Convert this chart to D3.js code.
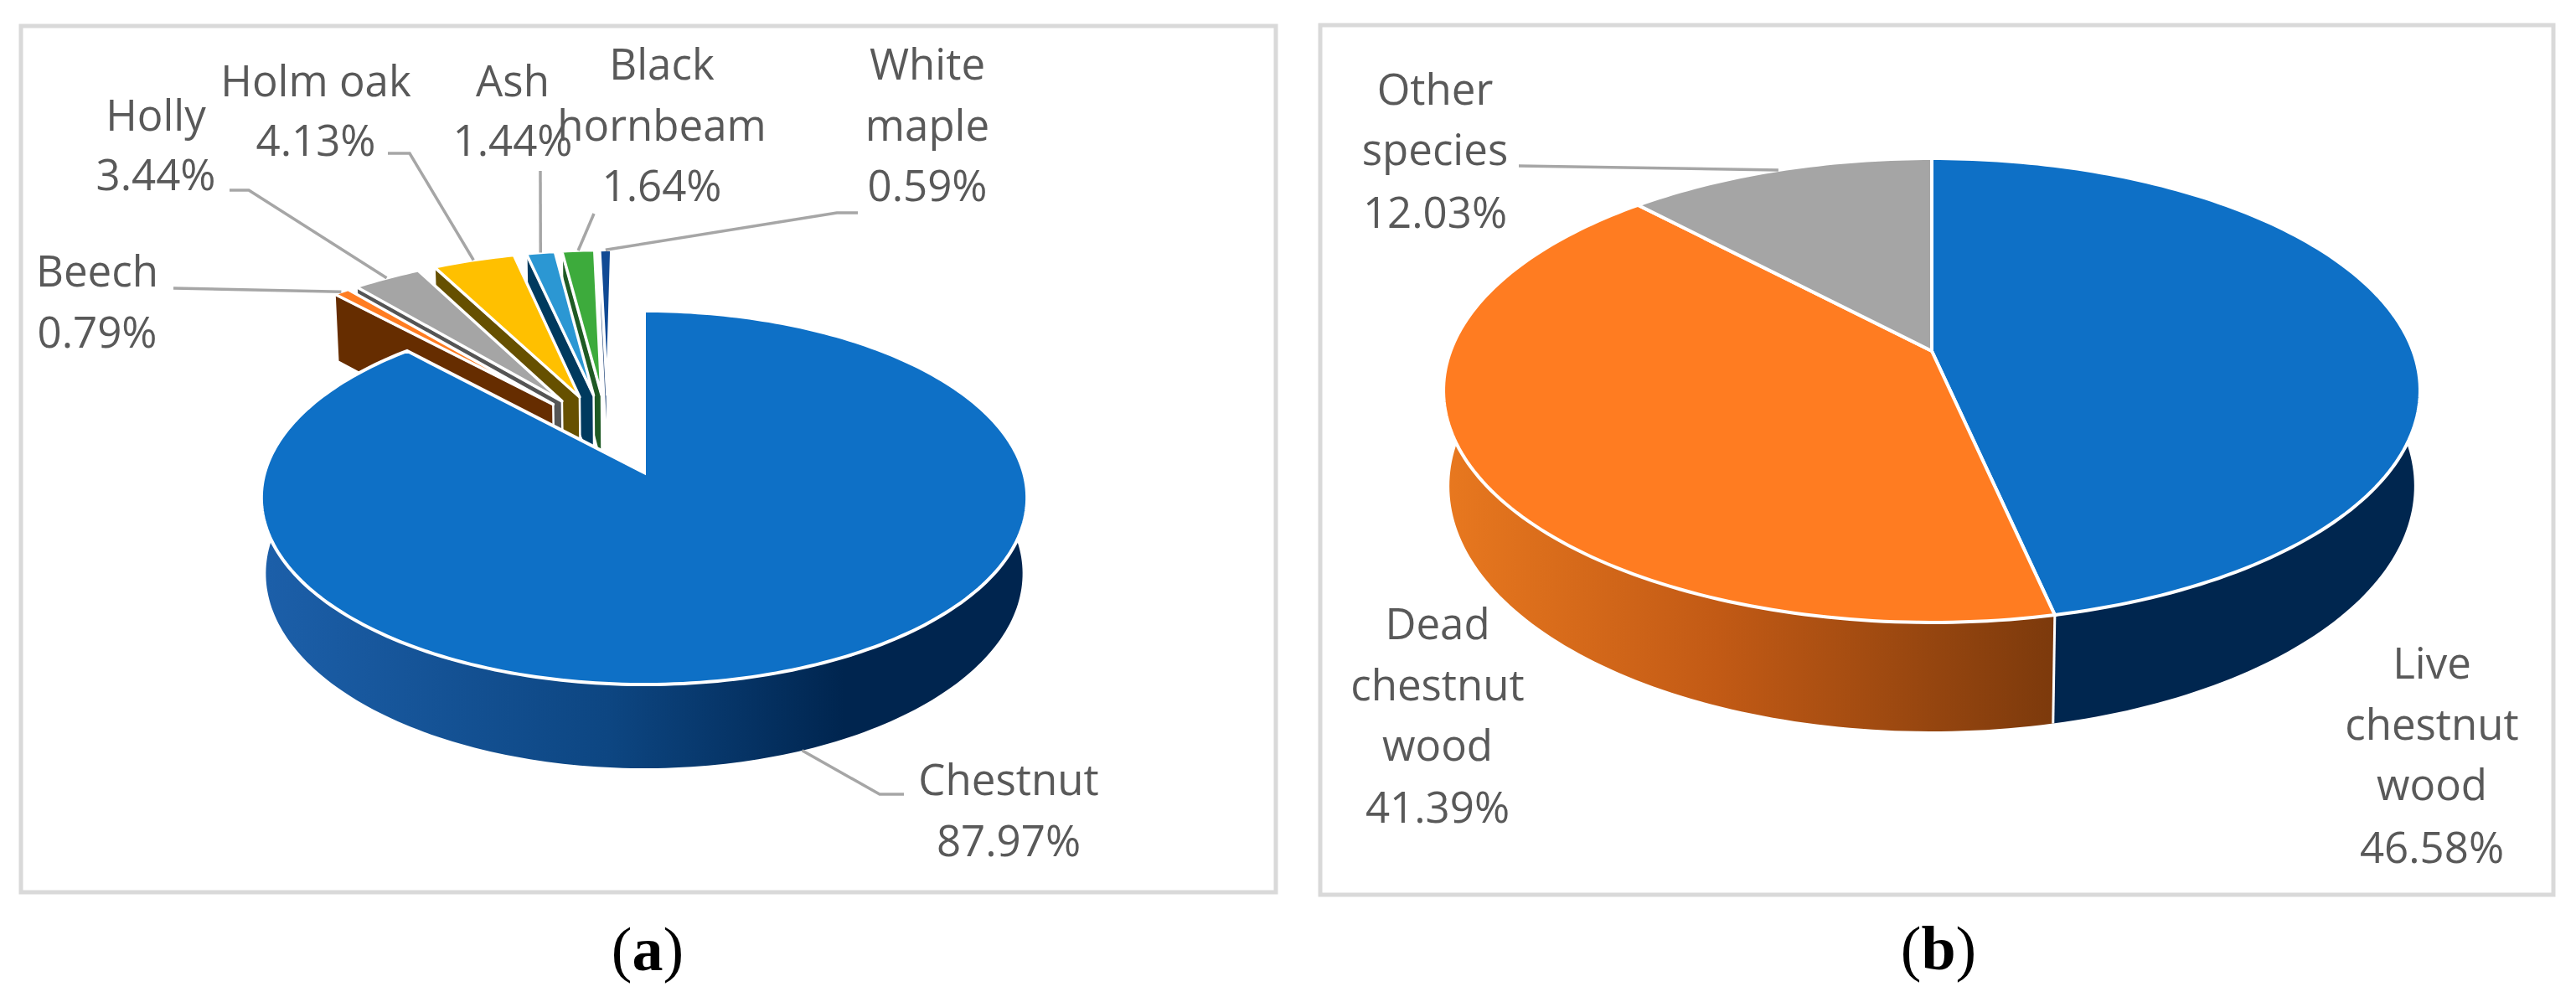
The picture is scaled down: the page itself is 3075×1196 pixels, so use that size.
<!DOCTYPE html>
<html>
<head>
<meta charset="utf-8">
<script src="https://d3js.org/d3.v7.min.js"></script>
<style>
  html, body { margin: 0; padding: 0; background: #fff; }
  svg { display: block; }
  text { font-family: "Open Sans", sans-serif; fill: #595959; font-size: 51px; text-anchor: middle; }
</style>
</head>
<body>
<div id="chart"></div>
<script>
// panel (a): tree species
const speciesNames = ["Chestnut", "Beech", "Holly", "Holm oak", "Ash", "Black hornbeam", "White maple"];
const speciesValues = [87.97, 0.79, 3.44, 4.13, 1.44, 1.64, 0.59];
const speciesTop = ["#0e70c6", "#ff7c21", "#a5a5a5", "#ffc000", "#2b97d3", "#3dab3c", "#114a94"];
const speciesWall = ["#00264f", "#662d00", "#555555", "#665000", "#003a5e", "#1f5a24", "#2c4f80"];

// panel (b): wood composition
const woodNames = ["Live chestnut wood", "Dead chestnut wood", "Other species"];
const woodValues = [46.58, 41.39, 12.03];
const woodTop = ["#0e70c6", "#ff7c21", "#a5a5a5"];

const width = 3075, height = 1196;

const svg = d3.select("#chart").append("svg")
    .attr("width", width)
    .attr("height", height);

const defs = svg.append("defs");

function addGradient(id, x1, x2, stops) {
    const g = defs.append("linearGradient")
        .attr("id", id)
        .attr("gradientUnits", "userSpaceOnUse")
        .attr("x1", x1).attr("x2", x2)
        .attr("y1", 0).attr("y2", 0);
    stops.forEach(s => g.append("stop").attr("offset", s[0]).attr("stop-color", s[1]));
    return `url(#${id})`;
}

// Perspective from the pie plane (u right, v towards viewer, z down) to the page
function makeProjection({ cx, cy, a, b, k, h, m }) {
    return (u, v, z = 0) => {
        const w = 1 - k * v + m * z;
        return [cx + b * u / w, cy + (a * v + h * z) / w];
    };
}

const pie = d3.pie().sort(null).value(d => d);
const line = d3.line();
const dir = t => [Math.sin(t), -Math.cos(t)];

function arcPoints(t0, t1, apex, z, project) {
    const n = Math.max(2, Math.ceil(Math.abs(t1 - t0) / 0.02));
    return d3.range(n + 1).map(i => {
        const d = dir(t0 + (t1 - t0) * i / n);
        return project(apex[0] + d[0], apex[1] + d[1], z);
    });
}

// curved outer wall of a slice, only the part turned towards the viewer
function drawRimWall(g, arc, apex, project, fill) {
    const t0 = Math.max(arc.startAngle, Math.PI / 2 - 0.25);
    const t1 = Math.min(arc.endAngle, 3 * Math.PI / 2 + 0.25);
    if (t1 <= t0) return;
    const pts = arcPoints(t0, t1, apex, 0, project)
        .concat(arcPoints(t1, t0, apex, 1, project));
    g.append("path").attr("d", line(pts) + "Z")
        .attr("fill", fill)
        .attr("stroke", "none");
}

function drawTop(g, arc, apex, project, fill, strokeWidth, join = "round") {
    const pts = [project(apex[0], apex[1])].concat(arcPoints(arc.startAngle, arc.endAngle, apex, 0, project));
    g.append("path").attr("d", line(pts) + "Z")
        .attr("fill", fill)
        .attr("stroke", "#fff")
        .attr("stroke-width", strokeWidth)
        .attr("stroke-linejoin", join)
        .attr("stroke-miterlimit", 8);
}

// radial wall on the left edge of an exploded slice, with the post under its tip
function drawSideWall(g, arc, apex, project, fill) {
    const d = dir(arc.startAngle);
    const near = [apex[0] + d[0] * 0.12, apex[1] + d[1] * 0.12];
    const pts = [
        project(apex[0] + d[0], apex[1] + d[1], 0),
        project(apex[0], apex[1], 0),
        project(apex[0], apex[1], 1.7),
        project(near[0], near[1], 1.7),
        project(near[0], near[1], 1),
        project(apex[0] + d[0], apex[1] + d[1], 1)
    ];
    g.append("path").attr("d", line(pts) + "Z")
        .attr("fill", fill)
        .attr("stroke", "#fff")
        .attr("stroke-width", 2.5)
        .attr("stroke-linejoin", "round");
}

function drawLeader(pts) {
    svg.append("path").attr("d", line(pts))
        .attr("fill", "none")
        .attr("stroke", "#a6a6a6")
        .attr("stroke-width", 3.5);
}

function drawLabel(lines, cx, baselines) {
    lines.forEach((t, i) => {
        svg.append("text").attr("x", cx).attr("y", baselines[i]).text(t);
    });
}

function drawFrame(x0, y0, x1, y1) {
    svg.append("rect")
        .attr("x", x0).attr("y", y0)
        .attr("width", x1 - x0).attr("height", y1 - y0)
        .attr("fill", "#fff")
        .attr("stroke", "#d9d9d9")
        .attr("stroke-width", 5);
}

function drawCaption(letter, cx, y) {
    const t = svg.append("text").attr("x", cx).attr("y", y)
        .style("font-family", '"Liberation Serif", serif')
        .style("font-size", "74px")
        .style("fill", "#000");
    t.append("tspan").text("(");
    t.append("tspan").style("font-weight", "bold").text(letter);
    t.append("tspan").text(")");
}

drawFrame(25, 31, 1523, 1065);
drawFrame(1576, 30, 3048, 1068);

// ---- panel (a) ----
const projectA = makeProjection({ cx: 769, cy: 564, a: 219, b: 453, k: 0.1345, h: 90.8, m: 0.012 });
const explode = 0.23;               // how far the small slices are pulled out
const smallCentre = [-0.099, -0.22]; // common centre of the small slices, blue apex is the origin
const arcsA = pie(speciesValues);
const apexA = arcsA.map((arc, i) => {
    if (i === 0) return [0, 0];
    const d = dir((arc.startAngle + arc.endAngle) / 2);
    return [smallCentre[0] + explode * d[0], smallCentre[1] + explode * d[1]];
});

const groupA = svg.append("g");
// back to front: white maple first, chestnut last
d3.range(arcsA.length - 1, 0, -1).forEach(i => {
    drawSideWall(groupA, arcsA[i], apexA[i], projectA, speciesWall[i]);
    drawTop(groupA, arcsA[i], apexA[i], projectA, speciesTop[i], 3.5);
});
const chestnutWall = addGradient("wallA", 316, 1226, [[0, "#1c5fa9"], [0.45, "#0d4682"], [0.76, "#00254f"], [1, "#00254f"]]);
drawRimWall(groupA, arcsA[0], apexA[0], projectA, chestnutWall);
drawTop(groupA, arcsA[0], apexA[0], projectA, speciesTop[0], 4, "miter");

// leader knees for panel (a), in the order of the species arrays
const kneesA = [
    [[1050, 948], [1079, 948]],
    [[207, 344]],
    [[297, 227], [274, 227]],
    [[489, 183], [463, 183]],
    [[645, 204]],
    [[709, 255]],
    [[999, 254], [1024, 254]]
];
arcsA.forEach((arc, i) => {
    const d = dir((arc.startAngle + arc.endAngle) / 2);
    const end = projectA(apexA[i][0] + d[0], apexA[i][1] + d[1], i === 0 ? 1 : 0);
    drawLeader([end].concat(kneesA[i]));
});

drawLabel(["Chestnut", "87.97%"], 1204, [949, 1022]);
drawLabel(["Beech", "0.79%"], 116, [342, 415]);
drawLabel(["Holly", "3.44%"], 186, [156, 227]);
drawLabel(["Holm oak", "4.13%"], 377, [115, 186]);
drawLabel(["Ash", "1.44%"], 612, [115, 186]);
drawLabel(["Black", "hornbeam", "1.64%"], 790, [95, 168, 240]);
drawLabel(["White", "maple", "0.59%"], 1107, [95, 168, 240]);

// ---- panel (b) ----
const projectB = makeProjection({ cx: 2306, cy: 419, a: 269, b: 574.5, k: 0.1697, h: 113.4, m: 0.012 });
const arcsB = pie(woodValues);
const groupB = svg.append("g");
const woodWalls = [
    "#00264f",
    addGradient("wallB", 1726, 2447, [[0, "#e8781f"], [0.45, "#c25a15"], [1, "#7d3a0c"]]),
    "#6e6e6e"
];
arcsB.forEach((arc, i) => {
    drawRimWall(groupB, arc, [0, 0], projectB, woodWalls[i]);
});
// white seam between the two front walls
const seam = arcsB[1].startAngle;
groupB.append("path")
    .attr("d", line([projectB(Math.sin(seam), -Math.cos(seam), 0), projectB(Math.sin(seam), -Math.cos(seam), 1)]))
    .attr("stroke", "#fff").attr("stroke-width", 3);
arcsB.forEach((arc, i) => {
    drawTop(groupB, arc, [0, 0], projectB, woodTop[i], 4, "miter");
});

const otherMid = (arcsB[2].startAngle + arcsB[2].endAngle) / 2;
drawLeader([projectB(Math.sin(otherMid), -Math.cos(otherMid)), [1813, 198]]);

drawLabel(["Other", "species", "12.03%"], 1713, [125, 197, 272]);
drawLabel(["Dead", "chestnut", "wood", "41.39%"], 1716, [763, 836, 908, 982]);
drawLabel(["Live", "chestnut", "wood", "46.58%"], 2903, [810, 883, 955, 1030]);

drawCaption("a", 773, 1158);
drawCaption("b", 2314, 1157);
</script>
</body>
</html>
